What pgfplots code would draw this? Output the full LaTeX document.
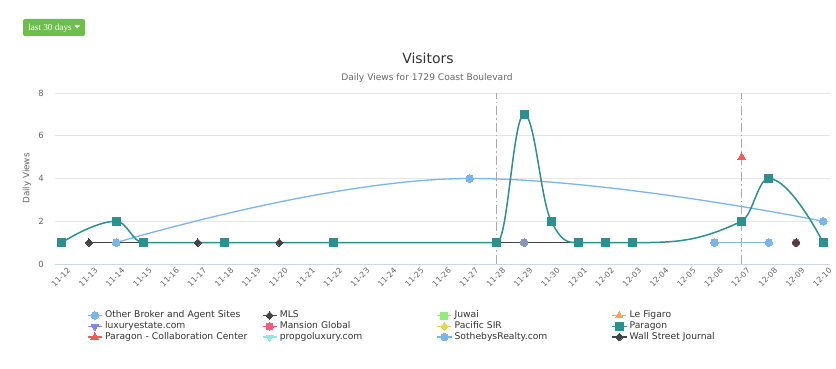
\documentclass[border=0pt]{standalone}
\usepackage{pgfplots}
\pgfplotsset{compat=1.18}
\usepackage{fontspec}
\setmainfont{DejaVu Sans}
\newfontfamily\btnfont{Liberation Serif}
\definecolor{cOther}{HTML}{7CB5EC}
\definecolor{cMLS}{HTML}{434348}
\definecolor{cJuwai}{HTML}{90ED7D}
\definecolor{cFigaro}{HTML}{F7A35C}
\definecolor{cLux}{HTML}{8085E9}
\definecolor{cMansion}{HTML}{F15C80}
\definecolor{cPacific}{HTML}{E4D354}
\definecolor{cParagon}{HTML}{2B908F}
\definecolor{cCollab}{HTML}{F45B5B}
\definecolor{cProp}{HTML}{91E8E1}
\definecolor{cOdd}{HTML}{8794BE}
\definecolor{cBtn}{HTML}{6CBF4B}
\definecolor{cGrid}{HTML}{E6E6E6}
\definecolor{cAxis}{HTML}{CCD6EB}
\definecolor{cPL}{HTML}{AAAAAA}
\definecolor{c333}{HTML}{333333}
\definecolor{c666}{HTML}{666666}

\makeatletter
\newcount\hc@n
\def\hc@start{\global\hc@n=0\relax}
\def\hc@segment{%
  \pgfmathsetmacro\hc@lx{(1.5*\hc@bx+\hc@ax)/2.5}%
  \pgfmathsetmacro\hc@ly{(1.5*\hc@by+\hc@ay)/2.5}%
  \pgfmathsetmacro\hc@nrx{(1.5*\hc@bx+\hc@cx)/2.5}%
  \pgfmathsetmacro\hc@nry{(1.5*\hc@by+\hc@cy)/2.5}%
  \pgfmathsetmacro\hc@corr{(\hc@nry-\hc@ly)/(\hc@nrx-\hc@lx)*(\hc@nrx-\hc@bx)+\hc@by-\hc@nry}%
  \pgfmathsetmacro\hc@ly{\hc@ly+\hc@corr}%
  \pgfmathsetmacro\hc@nry{\hc@nry+\hc@corr}%
  \ifdim\hc@ly pt>\hc@ay pt\relax\ifdim\hc@ly pt>\hc@by pt\relax
     \pgfmathsetmacro\hc@ly{max(\hc@ay,\hc@by)}\pgfmathsetmacro\hc@nry{2*\hc@by-\hc@ly}\fi\fi
  \ifdim\hc@ly pt<\hc@ay pt\relax\ifdim\hc@ly pt<\hc@by pt\relax
     \pgfmathsetmacro\hc@ly{min(\hc@ay,\hc@by)}\pgfmathsetmacro\hc@nry{2*\hc@by-\hc@ly}\fi\fi
  \ifdim\hc@nry pt>\hc@cy pt\relax\ifdim\hc@nry pt>\hc@by pt\relax
     \pgfmathsetmacro\hc@nry{max(\hc@cy,\hc@by)}\pgfmathsetmacro\hc@ly{2*\hc@by-\hc@nry}\fi\fi
  \ifdim\hc@nry pt<\hc@cy pt\relax\ifdim\hc@nry pt<\hc@by pt\relax
     \pgfmathsetmacro\hc@nry{min(\hc@cy,\hc@by)}\pgfmathsetmacro\hc@ly{2*\hc@by-\hc@nry}\fi\fi
  \pgfpathcurveto{\pgfqpoint{\hc@rx pt}{\hc@ry pt}}{\pgfqpoint{\hc@lx pt}{\hc@ly pt}}{\pgfqpoint{\hc@bx pt}{\hc@by pt}}%
  \global\let\hc@rx\hc@nrx \global\let\hc@ry\hc@nry
}
\def\hc@point#1{%
  \pgf@process{#1}%
  \xdef\hc@cx{\pgf@sys@tonumber\pgf@x}%
  \xdef\hc@cy{\pgf@sys@tonumber\pgf@y}%
  \ifcase\hc@n
    \pgfpathmoveto{\pgfqpoint{\hc@cx pt}{\hc@cy pt}}%
    \global\let\hc@bx\hc@cx\global\let\hc@by\hc@cy
    \global\let\hc@rx\hc@cx\global\let\hc@ry\hc@cy
    \global\hc@n=1\relax
  \or
    \global\let\hc@ax\hc@bx\global\let\hc@ay\hc@by
    \global\let\hc@bx\hc@cx\global\let\hc@by\hc@cy
    \global\hc@n=2\relax
  \else
    \hc@segment
    \global\let\hc@ax\hc@bx\global\let\hc@ay\hc@by
    \global\let\hc@bx\hc@cx\global\let\hc@by\hc@cy
  \fi}
\def\hc@end{%
  \ifnum\hc@n>1\relax
    \pgfpathcurveto{\pgfqpoint{\hc@rx pt}{\hc@ry pt}}{\pgfqpoint{\hc@bx pt}{\hc@by pt}}{\pgfqpoint{\hc@bx pt}{\hc@by pt}}%
  \fi
  \global\hc@n=0\relax}
\pgfdeclareplothandler{\pgfplothandlerhcspline}{}{%
  start=\hc@start,
  point macro=\hc@point,
  jump=\hc@end,
  end=\hc@end
}
\tikzset{hcspline/.code={\let\tikz@plot@handler=\pgfplothandlerhcspline}}
\makeatother

\begin{document}
\begin{tikzpicture}
\path[use as bounding box, fill=white] (0pt,0pt) rectangle (836pt,369pt);
% button
\fill[cBtn, rounded corners=2pt] (23pt,333pt) rectangle (85pt,350pt);
\node[anchor=base, text=white, font=\btnfont\fontsize{9.2}{10}\selectfont, inner sep=0pt] at (50pt,338.5pt) {last 30 days};
\fill[white] (74.5pt,343.5pt) -- (80pt,343.5pt) -- (77.25pt,340.5pt) -- cycle;
% titles
\node[anchor=base, font=\fontsize{14}{16}\selectfont, text=c333, inner sep=0pt] at (428pt,305pt) {Visitors};
\node[anchor=base, font=\fontsize{9.1}{11}\selectfont, text=c666, inner sep=0pt] at (427pt,288pt) {Daily Views for 1729 Coast Boulevard};
\begin{axis}[
  at={(55pt,105pt)}, anchor=south west,
  scale only axis, width=775pt, height=171pt,
  xmin=-0.25, xmax=28.25, ymin=0, ymax=8,
  enlargelimits=false,
  xtick={0,...,28},
  xticklabels={11-12,11-13,11-14,11-15,11-16,11-17,11-18,11-19,11-20,11-21,11-22,11-23,11-24,11-25,11-26,11-27,11-28,11-29,11-30,12-01,12-02,12-03,12-04,12-05,12-06,12-07,12-08,12-09,12-10},
  ytick={0,2,4,6,8},
  ymajorgrids,
  grid style={draw=cGrid, line width=0.8pt},
  extra x ticks={16,25},
  extra x tick labels={},
  extra x tick style={grid=major, major grid style={draw=cPL, line width=1.2pt, dash pattern=on 9pt off 3pt on 1.5pt off 3pt}},
  axis x line*=bottom, axis y line*=left,
  x axis line style={-, draw=cAxis, line width=0.8pt},
  y axis line style={-, draw=none},
  tick style={draw=none},
  /pgf/number format/assume math mode=true,
  xticklabel style={font=\fontsize{7.8}{9}\selectfont, text=c666, inner sep=0pt, xshift=5pt, yshift=-3pt, rotate=45, anchor=north east},
  yticklabel style={font=\fontsize{8.5}{10}\selectfont, text=c666, inner sep=0pt, anchor=east, xshift=-11pt},
  ylabel={Daily Views},
  every axis y label/.style={at={(axis description cs:-0.0361,0.5)}, rotate=90, anchor=center, font=\fontsize{8.8}{10}\selectfont, text=c666},
  legend columns=4,
  legend style={at={(axis description cs:0.0413,-0.2708)}, anchor=north west, draw=none, fill=none, inner sep=0pt,
    font=\fontsize{9.2}{11}\selectfont, text=c333, cells={anchor=west},
    nodes={inner sep=0pt, inner xsep=2.5pt, text width=154.5pt, text height=7.4pt, text depth=2.6pt, align=left},
    column sep=0pt, row sep=0.8pt},
  legend image code/.code={\draw[mark repeat=2,mark phase=2] plot coordinates {(0pt,0pt) (7pt,0pt) (14pt,0pt)};},
  hc/.style={line width=1.3pt, hcspline},
]
\addplot[hc, cOther, mark=*, mark size=3.8pt, mark options={solid, line width=0pt}] coordinates {(2,1) (15,4) (28,2)};
\addlegendentry{Other Broker and Agent Sites}
\addplot[hc, cMLS, mark=diamond*, mark size=3.8pt, mark options={solid, line width=0pt, xscale=1.3}] coordinates {(1,1) (5,1) (8,1) (16,1) (19,1)};
\addlegendentry{MLS}
\addlegendimage{line width=1.3pt, cJuwai, mark=square*, mark size=3.5pt, mark options={solid, line width=0pt}}
\addlegendentry{Juwai}
\addlegendimage{line width=1.3pt, cFigaro, mark=triangle*, mark size=4.2pt, mark options={solid, line width=0pt}}
\addlegendentry{Le Figaro}
\addlegendimage{line width=1.3pt, cLux, mark=triangle*, mark size=4.2pt, mark options={solid, line width=0pt, rotate=180}}
\addlegendentry{luxuryestate.com}
\addplot[hc, cMansion, mark=*, mark size=3.8pt, mark options={solid, line width=0pt}] coordinates {(27,1)};
\addlegendentry{Mansion Global}
\addlegendimage{line width=1.3pt, cPacific, mark=diamond*, mark size=3.8pt, mark options={solid, line width=0pt, xscale=1.3}}
\addlegendentry{Pacific SIR}
\addplot[hc, cParagon, line width=1.5pt, mark=square*, mark size=4pt, mark options={solid, line width=0pt}] coordinates {(0,1) (2,2) (3,1) (6,1) (10,1) (16,1) (17,7) (18,2) (19,1) (20,1) (21,1) (25,2) (26,4) (28,1)};
\addlegendentry{Paragon}
\addplot[hc, cCollab, mark=triangle*, mark size=4.5pt, mark options={solid, line width=0pt}] coordinates {(25,5)};
\addlegendentry{Paragon - Collaboration Center}
\addlegendimage{line width=1.3pt, cProp, mark=triangle*, mark size=4.2pt, mark options={solid, line width=0pt, rotate=180}}
\addlegendentry{propgoluxury.com}
\addplot[hc, cOther, mark=*, mark size=3.8pt, mark options={solid, line width=0pt}] coordinates {(24,1) (26,1)};
\addlegendentry{SothebysRealty.com}
\addplot[hc, cMLS, mark=diamond*, mark size=3.8pt, mark options={solid, line width=0pt, xscale=1.3}] coordinates {(27,1)};
\addlegendentry{Wall Street Journal}
\addplot[forget plot, only marks, cOdd, mark=*, mark size=3.8pt, mark options={solid, line width=0pt}] coordinates {(17,1)};
\end{axis}
\end{tikzpicture}
\end{document}
